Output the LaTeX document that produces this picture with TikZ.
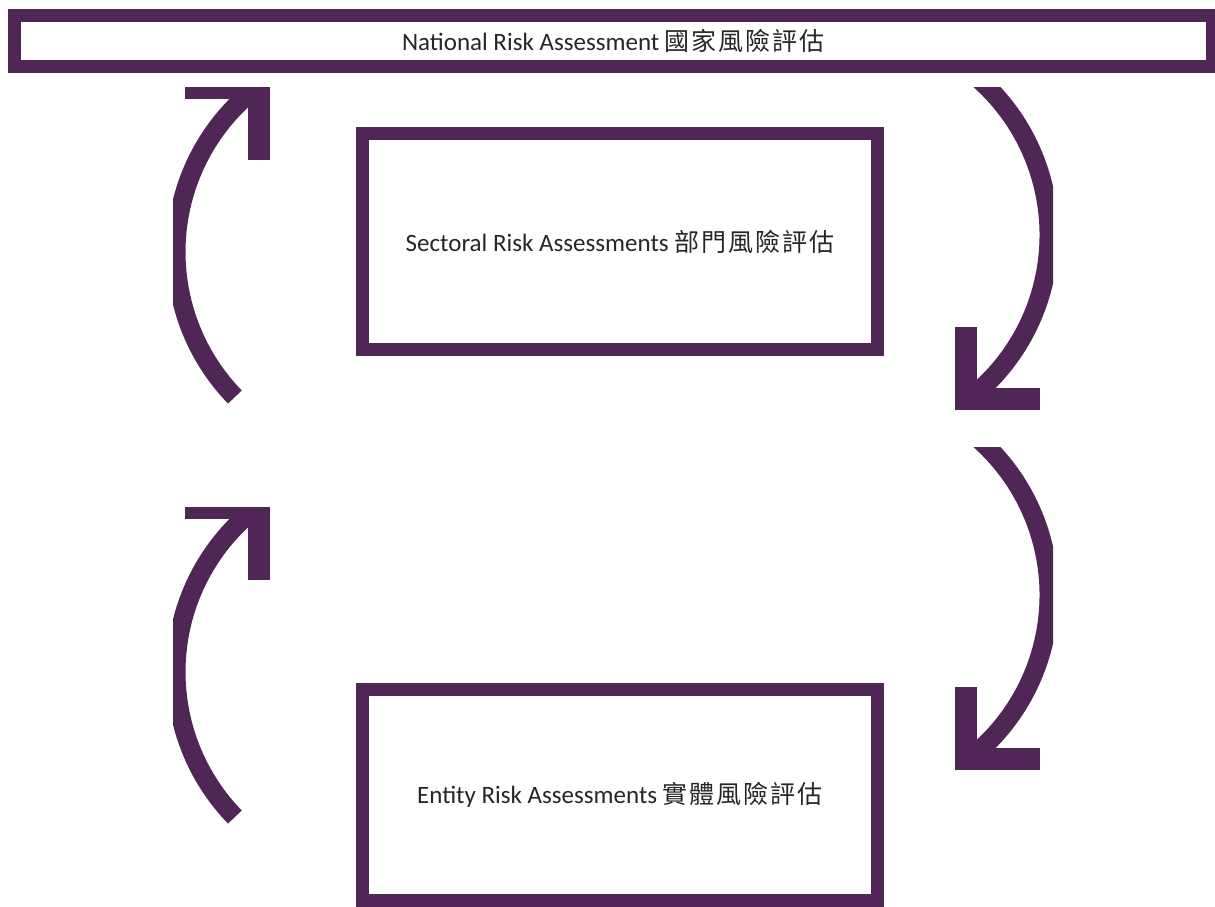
\documentclass[tikz,border=0pt]{standalone}
\usepackage{fontspec}
\setmainfont{Carlito}
\newfontfamily\cjk[LetterSpace=8]{Noto Sans CJK TC}
\definecolor{rapurple}{RGB}{79,38,86}

\begin{document}
\begin{tikzpicture}[x=0.75pt,y=-0.75pt,
box/.style={draw=rapurple,line width=9.75pt,inner sep=0pt,minimum width=386.25pt,
  text=black!85,font=\fontsize{18.75}{22}\selectfont},
arcline/.style={draw=rapurple,line width=14.25pt},
headline/.style={draw=rapurple,line width=16.5pt,miter limit=10}]
\useasboundingbox (0,0) rectangle (1215,907);
\node[box,minimum width=898.5pt,minimum height=38.25pt] (nra) at (613.5,41)
{National Risk Assessment {\cjk 國家風險評估}};
\node[box,minimum height=162pt] (sra) at (620,241.5)
{Sectoral Risk Assessments {\cjk 部門風險評估}};
\node[box,minimum height=158.25pt] (era) at (620,795)
{Entity Risk Assessments {\cjk 實體風險評估}};
% upward arrows on the left
\foreach \dy in {0,420}
{\begin{scope}[shift={(0,\dy)}]
\clip (173,87) rectangle (320,430);
\draw[arcline] (234.9,397) arc[start angle=135.8,end angle=231,radius=208];
\draw[headline] (185,88) -- (259,88) -- (259,160);
\end{scope}}
% downward arrows on the right
\foreach \dy in {0,360}
{\begin{scope}[shift={(0,\dy)}]
\clip (900,87) rectangle (1053,430);
\draw[arcline] (980.2,80.4) arc[start angle=312,end angle=411,radius=208];
\draw[headline] (966,327) -- (966,399) -- (1040,399);
\end{scope}}
\end{tikzpicture}
\end{document}
